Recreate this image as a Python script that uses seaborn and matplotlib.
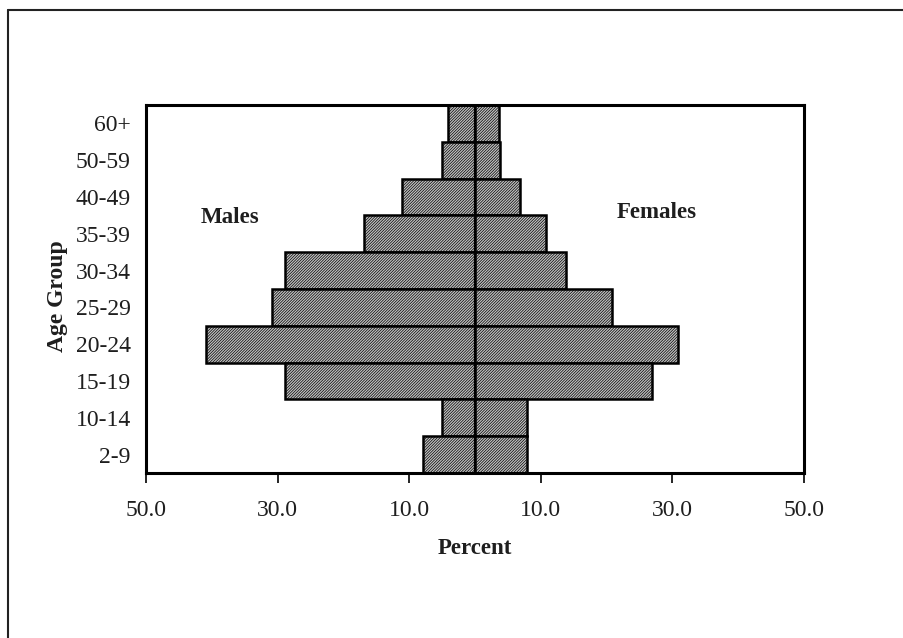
import matplotlib
matplotlib.use("Agg")
import matplotlib.pyplot as plt
import seaborn as sns
import pandas as pd
from matplotlib.lines import Line2D

age_groups = ["60+", "50-59", "40-49", "35-39", "30-34", "25-29",
              "20-24", "15-19", "10-14", "2-9"]
males = [4.0, 5.0, 11.0, 16.9, 28.9, 30.8, 40.9, 28.9, 5.0, 7.9]
females = [3.7, 3.8, 6.8, 10.8, 13.9, 20.9, 30.9, 26.9, 7.9, 7.9]
x_ticks = [-50, -30, -10, 10, 30, 50]
x_tick_labels = ["50.0", "30.0", "10.0", "10.0", "30.0", "50.0"]

sns.set_theme(style="white")
plt.rcParams["font.family"] = ["Liberation Serif", "DejaVu Serif"]
plt.rcParams["hatch.linewidth"] = 0.5
plt.rcParams["hatch.color"] = "black"

df_m = pd.DataFrame({"age": age_groups, "pct": [-v for v in males]})
df_f = pd.DataFrame({"age": age_groups, "pct": females})

fig = plt.figure(figsize=(9.04, 6.38), dpi=100)
ax = fig.add_axes([146 / 904, 1 - 473 / 638, (803.6 - 146) / 904, (473 - 105) / 638])

face = "#c2c2c2"
kw = dict(y="age", x="pct", order=age_groups, orient="h", width=1.0,
          color=face, edgecolor="black", linewidth=1.8, saturation=1, ax=ax)
sns.barplot(data=df_m, **kw)
sns.barplot(data=df_f, **kw)
for p in ax.patches:
    p.set_hatch("/" * 12)
    p.set_facecolor(face)
    p.set_edgecolor("black")

ax.axvline(0, color="black", lw=1.6, zorder=5)

ax.set_xlim(-50, 50)
ax.set_ylim(len(age_groups) - 0.5, -0.5)
ax.set_xticks(x_ticks)
ax.set_xticklabels(x_tick_labels, fontsize=17)
ax.tick_params(axis="x", direction="out", length=7.5, width=1.2, color="black",
               pad=12, bottom=True)
ax.tick_params(axis="y", length=0, pad=11, labelsize=17)
for lab in ax.get_yticklabels() + ax.get_xticklabels():
    lab.set_color("#1e1e1e")

for s in ax.spines.values():
    s.set_visible(True)
    s.set_color("black")
    s.set_linewidth(2.2)

ax.set_xlabel("Percent", fontsize=16.5, fontweight="bold", color="#1e1e1e")
ax.xaxis.label.set_va("center")
ax.xaxis.set_label_coords(0.5, (473 - 548) / 368)
ax.set_ylabel("Age Group", fontsize=17, fontweight="bold", color="#1e1e1e")
ax.yaxis.label.set_va("center")
ax.yaxis.set_label_coords((58 - 146) / 657.6, (473 - 296) / 368)

ax.text(-37.2, 2.72, "Males", fontsize=16.5, fontweight="bold", ha="center",
        va="baseline", color="#1e1e1e")
ax.text(27.6, 2.58, "Females", fontsize=16.5, fontweight="bold", ha="center",
        va="baseline", color="#1e1e1e")

# page frame (top and left edges as in the scan)
fig.add_artist(Line2D([8 / 904, 8 / 904], [0, 1 - 10 / 638], transform=fig.transFigure,
                      color="#222222", lw=1.5))
fig.add_artist(Line2D([8 / 904, 1], [1 - 10 / 638, 1 - 10 / 638], transform=fig.transFigure,
                      color="#222222", lw=1.5))

fig.savefig("out.png", dpi=100)
